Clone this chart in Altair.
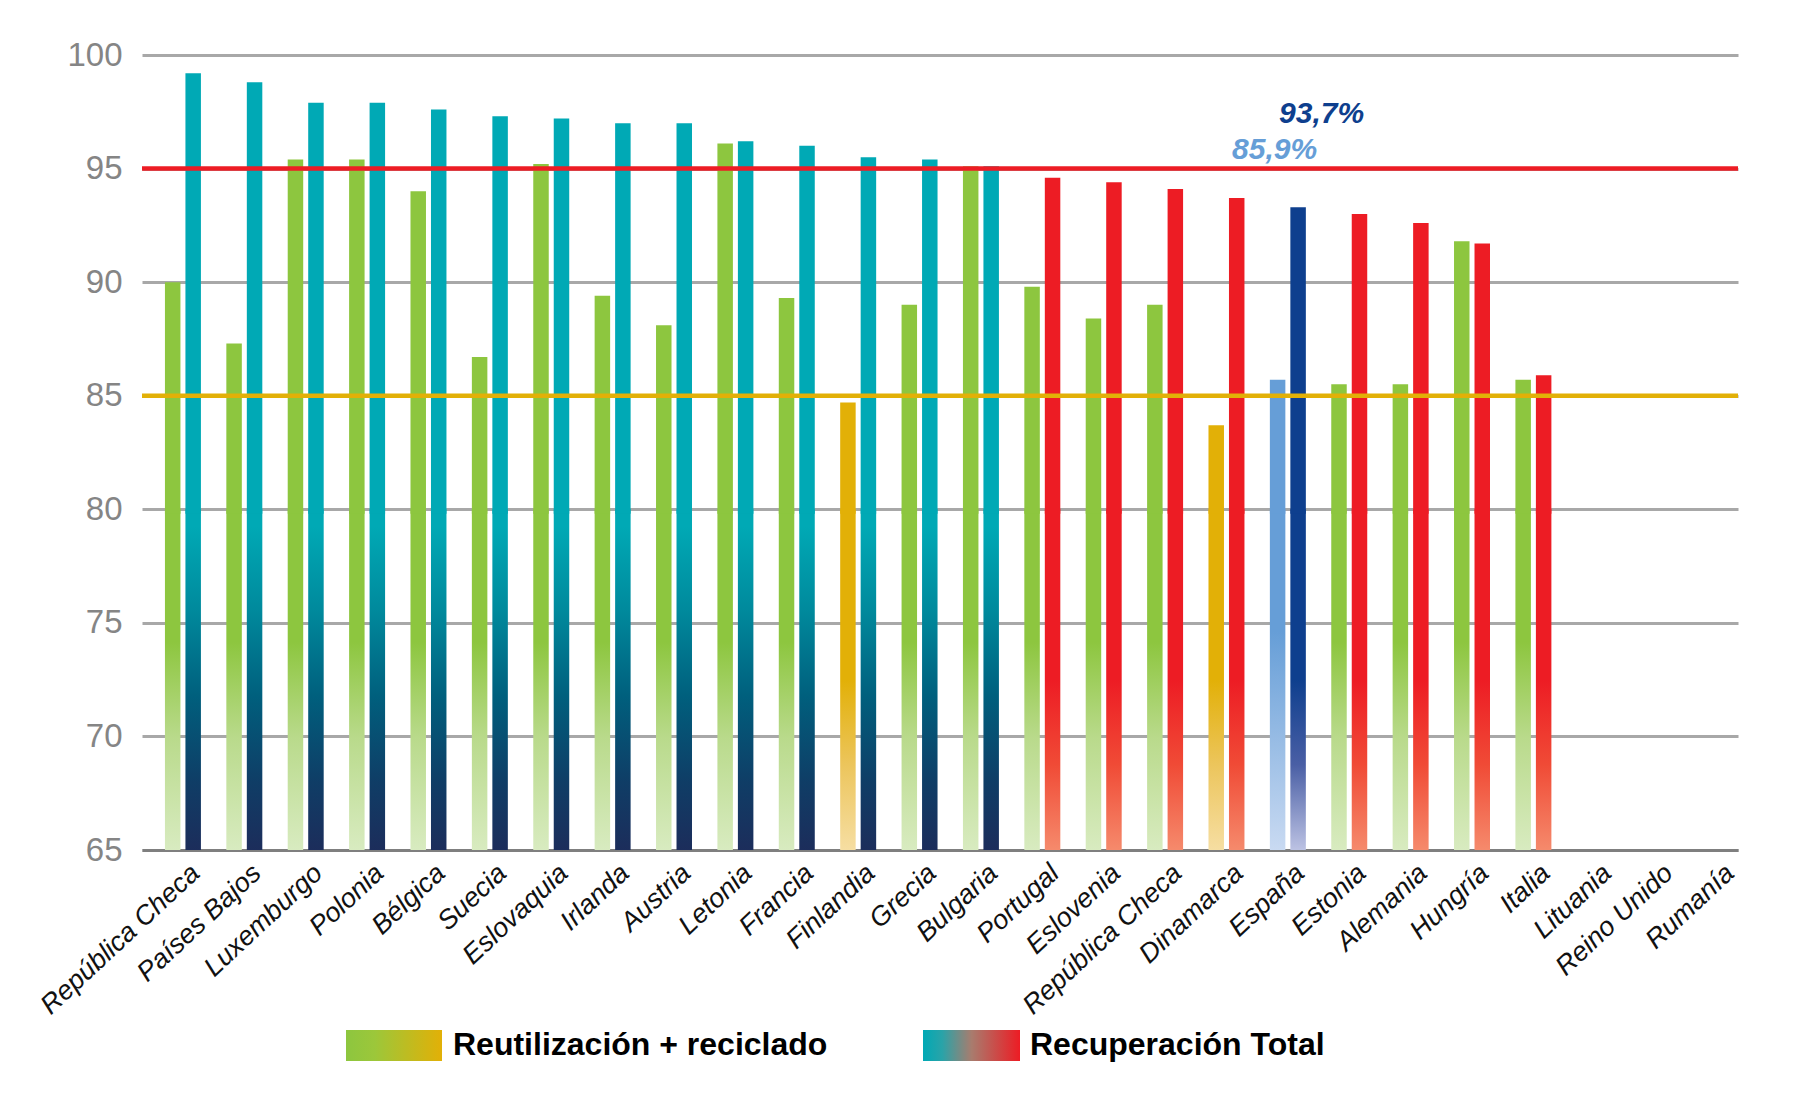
import json
import altair as alt
import pandas as pd

countries = ["República Checa", "Países Bajos", "Luxemburgo", "Polonia", "Bélgica",
             "Suecia", "Eslovaquia", "Irlanda", "Austria", "Letonia", "Francia",
             "Finlandia", "Grecia", "Bulgaria", "Portugal", "Eslovenia",
             "República Checa", "Dinamarca", "España", "Estonia", "Alemania",
             "Hungría", "Italia", "Lituania", "Reino Unido", "Rumanía"]
reuse_recycling = [90.0, 87.3, 95.4, 95.4, 94.0, 86.7, 95.2, 89.4, 88.1, 96.1, 89.3,
                   84.7, 89.0, 95.1, 89.8, 88.4, 89.0, 83.7, 85.7, 85.5, 85.5,
                   91.8, 85.7, None, None, None]
total_recovery = [99.2, 98.8, 97.9, 97.9, 97.6, 97.3, 97.2, 97.0, 97.0, 96.2, 96.0,
                  95.5, 95.4, 95.1, 94.6, 94.4, 94.1, 93.7, 93.3, 93.0, 92.6,
                  91.7, 85.9, None, None, None]
recovery_target = 95
recycling_target = 85
highlight = "España"
highlight_labels = ["85,9%", "93,7%"]
legend_labels = ["Reutilización + reciclado", "Recuperación Total"]
y_ticks = [65, 70, 75, 80, 85, 90, 95, 100]

rows = []
for i, c in enumerate(countries):
    a = reuse_recycling[i]
    b = total_recovery[i]
    if a is not None:
        fam = "lightblue" if c == highlight else ("green" if a >= recycling_target else "yellow")
        rows.append({"idx": i, "series": "a", "value": a, "family": fam})
    if b is not None:
        fam = "darkblue" if c == highlight else ("teal" if b >= recovery_target else "red")
        rows.append({"idx": i, "series": "b", "value": b, "family": fam})
df = pd.DataFrame(rows)


def vgrad(stops):
    return alt.LinearGradient(
        gradient="linear", x1=0, x2=0, y1=0, y2=1,
        stops=[alt.GradientStop(color=c, offset=o) for o, c in stops])


def hgrad(stops):
    return alt.LinearGradient(
        gradient="linear", x1=0, x2=1, y1=0, y2=0,
        stops=[alt.GradientStop(color=c, offset=o) for o, c in stops])


families = {
    "green": ("#8dc63f", [(0, "#8dc63f"), (0.39, "#8dc63f"), (0.67, "#b9da8b"), (1, "#d8ebc0")]),
    "yellow": ("#e2b007", [(0, "#e2b007"), (0.5, "#e2b007"), (0.75, "#ecc55c"), (1, "#f6dea2")]),
    "lightblue": ("#669ed7", [(0, "#669ed7"), (0.36, "#669ed7"), (1, "#c9daf2")]),
    "teal": ("#00a9b5", [(0, "#00a9b5"), (0.05, "#00a9b5"), (0.3, "#00899c"),
                         (0.55, "#005f7d"), (0.8, "#0f3d66"), (1, "#1c2d5b")]),
    "red": ("#ed1c24", [(0, "#ed1c24"), (0.5, "#ed1c24"), (0.75, "#f04b36"), (1, "#f58a6c")]),
    "darkblue": ("#0e3f8e", [(0, "#0e3f8e"), (0.5, "#0e3f8e"), (0.75, "#4a5fa5"), (1, "#bcc2e3")]),
}

yscale = alt.Scale(domain=[65, 100], nice=False, zero=False)
xscale = alt.Scale(domain=list(range(len(countries))), paddingInner=0, paddingOuter=0)
xoff = alt.XOffset("series:N", scale=alt.Scale(domain=["_", "a", "b"],
                                               paddingInner=0.244, paddingOuter=0.12))
label_expr = json.dumps(countries, ensure_ascii=False) + "[datum.value]"
xaxis = alt.Axis(labelExpr=label_expr, labelAngle=-43, labelAlign="right",
                 labelBaseline="middle", labelFontSize=27, labelFont="Liberation Sans",
                 labelFontStyle="italic", labelColor="#111111", labelOffset=23,
                 labelPadding=19, labelLimit=0, labelOverlap=False, ticks=False,
                 domainColor="#7f7f7f", domainWidth=3, grid=False, title=None)
yaxis = alt.Axis(values=y_ticks, grid=True, gridColor="#a8a8a8", gridWidth=3,
                 domain=False, ticks=False, labelFontSize=33, labelFont="Liberation Sans",
                 labelColor="#858585", labelPadding=20, title=None)

X = alt.X("idx:O", scale=xscale, axis=xaxis)
base = alt.Chart(df)
layers = []
for fam, (solid, stops) in families.items():
    sub = base.transform_filter(alt.datum.family == fam)
    layers.append(sub.mark_bar(color=vgrad(stops)).encode(
        x=X, xOffset=xoff,
        y=alt.YDatum(80, type="quantitative", scale=yscale, axis=yaxis),
        y2=alt.Y2Datum(65)))
    layers.append(sub.mark_bar(color=solid).encode(
        x=X, xOffset=xoff,
        y=alt.Y("value:Q", scale=yscale, axis=yaxis),
        y2=alt.Y2Datum(79.8)))

one = alt.Chart(pd.DataFrame({"k": [0]}))
rule_red = one.mark_rule(color="#ed1c24", strokeWidth=4.5).encode(
    y=alt.YDatum(recovery_target, type="quantitative", scale=yscale))
rule_gold = one.mark_rule(color="#e2b007", strokeWidth=4.5).encode(
    y=alt.YDatum(recycling_target, type="quantitative", scale=yscale))

hi = countries.index(highlight)
lab_light = one.mark_text(text=highlight_labels[0], font="Liberation Sans", fontSize=30,
                          fontWeight="bold", fontStyle="italic", color="#669ed7",
                          baseline="alphabetic", align="center", dx=-3, dy=-10).encode(
    x=alt.XDatum(hi, type="ordinal", scale=xscale),
    y=alt.YDatum(recovery_target, type="quantitative", scale=yscale))
lab_dark = one.mark_text(text=highlight_labels[1], font="Liberation Sans", fontSize=30,
                         fontWeight="bold", fontStyle="italic", color="#0e3f8e",
                         baseline="alphabetic", align="center", dx=44, dy=-46).encode(
    x=alt.XDatum(hi, type="ordinal", scale=xscale),
    y=alt.YDatum(recovery_target, type="quantitative", scale=yscale))

leg_box1 = one.mark_rect(color=hgrad([(0, "#8dc63f"), (0.3, "#9cc73a"), (1, "#e2b007")])).encode(
    x=alt.value(204), x2=alt.value(300), y=alt.value(975), y2=alt.value(1006))
leg_box2 = one.mark_rect(color=hgrad([(0, "#00a9b5"), (0.2, "#2aa3a8"), (0.5, "#a87c6e"),
                                      (1, "#ed1c24")])).encode(
    x=alt.value(781), x2=alt.value(878), y=alt.value(975), y2=alt.value(1006))
leg_txt1 = one.mark_text(text=legend_labels[0], font="Liberation Sans", fontSize=32,
                         fontWeight="bold", color="#000000", align="left",
                         baseline="alphabetic").encode(x=alt.value(311), y=alt.value(1000))
leg_txt2 = one.mark_text(text=legend_labels[1], font="Liberation Sans", fontSize=32,
                         fontWeight="bold", color="#000000", align="left",
                         baseline="alphabetic").encode(x=alt.value(888), y=alt.value(1000))

chart = alt.layer(*layers, rule_red, rule_gold, lab_light, lab_dark,
                  leg_box1, leg_box2, leg_txt1, leg_txt2).properties(
    width=1596, height=795,
    padding={"left": 134, "top": 47, "right": 40, "bottom": 225},
    autosize=alt.AutoSizeParams(type="none"),
    background="white",
).configure_view(stroke=None)

chart.save("out.html", embed_options={"renderer": "svg", "actions": False})
